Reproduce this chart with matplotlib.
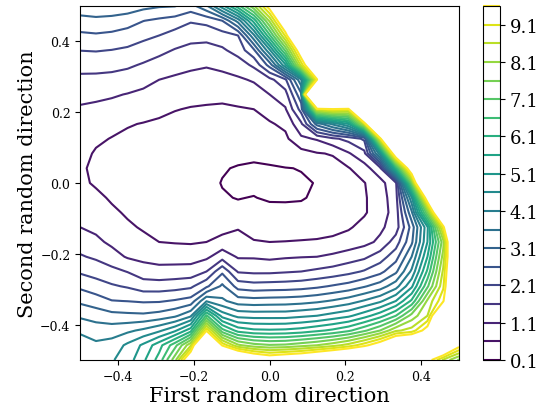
import numpy as np
import matplotlib
matplotlib.use("Agg")
import matplotlib.pyplot as plt

plt.rcParams['font.family'] = ['DejaVu Serif']

# grid of the two random directions
x_dir = np.linspace(-0.5, 0.5, 25)
y_dir = np.linspace(-0.5, 0.5, 25)
levels = np.round(np.arange(0.1, 10.0, 0.5), 1)   # 0.1 ... 9.6
tick_levels = levels[::2]                          # 0.1, 1.1, ... 9.1

# loss values, rows from top (y=0.5) to bottom (y=-0.5)
loss_rows_top_to_bottom = [
    [3.4, 3.45, 3.45, 3.4, 3.25, 3.15, 3.12, 2.9, 3.5, 4.9, 6.4, 8.0, 10.0, 20, 20, 20, 20, 20, 20, 20, 20, 20, 20, 20, 20],
    [2.93, 2.98, 2.93, 2.82, 2.61, 2.5, 2.39, 2.15, 2.25, 2.6, 3.8, 5.8, 8.2, 11, 20, 20, 20, 20, 20, 20, 20, 20, 20, 20, 20],
    [2.5, 2.54, 2.49, 2.38, 2.23, 2.1, 1.9, 1.77, 1.76, 1.9, 2.1, 4.0, 6.5, 9.2, 13, 20, 20, 20, 20, 20, 20, 20, 20, 20, 20],
    [2.11, 2.13, 2.09, 2.02, 1.88, 1.73, 1.57, 1.46, 1.42, 1.52, 1.8, 2.5, 4.5, 7.2, 10.5, 20, 20, 20, 20, 20, 20, 20, 20, 20, 20],
    [1.78, 1.78, 1.75, 1.68, 1.55, 1.41, 1.28, 1.19, 1.14, 1.22, 1.35, 1.7, 2.8, 5.0, 8.8, 12, 20, 20, 20, 20, 20, 20, 20, 20, 20],
    [1.48, 1.47, 1.44, 1.37, 1.25, 1.1, 1.02, 0.96, 0.91, 0.95, 1.03, 1.15, 1.45, 2.0, 4.0, 9.5, 20, 20, 20, 20, 20, 20, 20, 20, 20],
    [1.22, 1.2, 1.15, 1.08, 1.0, 0.91, 0.82, 0.76, 0.72, 0.71, 0.78, 0.88, 1.1, 1.4, 3.0, 30, 20, 20, 20, 20, 20, 20, 20, 20, 20],
    [1.05, 1.0, 0.95, 0.88, 0.79, 0.72, 0.62, 0.57, 0.55, 0.53, 0.56, 0.6, 0.8, 1.05, 2.3, 8.9, 9.5, 9.3, 20, 20, 20, 20, 20, 20, 20],
    [0.95, 0.84, 0.75, 0.63, 0.58, 0.52, 0.47, 0.45, 0.42, 0.4, 0.42, 0.47, 0.55, 0.7, 1.5, 3.3, 4.2, 5.1, 8.6, 20, 20, 20, 20, 20, 20],
    [0.85, 0.68, 0.58, 0.52, 0.45, 0.4, 0.35, 0.3, 0.27, 0.25, 0.22, 0.24, 0.37, 0.5, 1.0, 1.15, 1.5, 1.75, 2.2, 9.1, 20, 20, 20, 20, 20],
    [0.75, 0.55, 0.47, 0.42, 0.38, 0.34, 0.3, 0.27, 0.24, 0.21, 0.18, 0.16, 0.2, 0.3, 0.42, 0.57, 0.63, 1.05, 1.45, 4.4, 11, 20, 20, 20, 20],
    [0.67, 0.5, 0.4, 0.36, 0.32, 0.28, 0.24, 0.2, 0.16, 0.12, 0.08, 0.06, 0.07, 0.09, 0.11, 0.3, 0.45, 0.57, 0.91, 1.43, 6.0, 11, 20, 20, 20],
    [0.68, 0.55, 0.42, 0.37, 0.33, 0.29, 0.25, 0.21, 0.17, 0.09, 0.05, 0.03, 0.02, 0.04, 0.07, 0.11, 0.25, 0.4, 0.58, 0.93, 1.47, 7.4, 16, 20, 20],
    [0.8, 0.69, 0.55, 0.45, 0.38, 0.32, 0.27, 0.22, 0.17, 0.12, 0.09, 0.11, 0.06, 0.06, 0.08, 0.14, 0.28, 0.42, 0.55, 0.85, 1.4, 4.5, 10.5, 16, 20],
    [0.95, 0.84, 0.67, 0.55, 0.47, 0.4, 0.34, 0.29, 0.24, 0.2, 0.17, 0.16, 0.2, 0.19, 0.17, 0.2, 0.3, 0.42, 0.55, 0.84, 1.33, 3.5, 7.5, 13, 20],
    [1.1, 0.99, 0.83, 0.66, 0.56, 0.5, 0.45, 0.42, 0.4, 0.4, 0.57, 0.42, 0.4, 0.4, 0.38, 0.4, 0.45, 0.55, 0.74, 1.0, 1.35, 2.8, 5.0, 9.3, 16],
    [1.37, 1.21, 1.0, 0.85, 0.7, 0.6, 0.57, 0.55, 0.6, 0.8, 0.75, 0.63, 0.6, 0.61, 0.63, 0.65, 0.7, 0.8, 0.95, 1.2, 1.85, 3.0, 5.1, 7.9, 14],
    [1.65, 1.52, 1.3, 1.05, 0.97, 0.92, 0.9, 0.9, 1.0, 1.38, 1.05, 1.05, 1.0, 1.05, 1.08, 1.1, 1.2, 1.35, 1.5, 1.85, 2.4, 3.6, 5.6, 8.3, 13],
    [2.03, 1.9, 1.75, 1.58, 1.32, 1.25, 1.28, 1.3, 1.6, 2.5, 1.55, 1.5, 1.5, 1.55, 1.6, 1.7, 1.8, 1.95, 2.15, 2.45, 3.0, 4.2, 6.2, 8.7, 13],
    [2.5, 2.32, 2.16, 2.05, 1.86, 1.85, 1.9, 2.0, 2.5, 3.2, 2.4, 2.3, 2.33, 2.35, 2.4, 2.5, 2.65, 2.8, 3.05, 3.35, 3.9, 5.0, 7.0, 9.0, 13],
    [3.0, 2.83, 2.62, 2.59, 2.54, 2.55, 2.65, 2.8, 4.05, 3.7, 3.35, 3.3, 3.33, 3.35, 3.4, 3.5, 3.65, 3.85, 4.15, 4.5, 5.1, 6.2, 8.2, 9.5, 14],
    [3.52, 3.4, 3.26, 3.22, 3.2, 3.3, 3.5, 4.0, 6.7, 4.9, 4.45, 4.4, 4.4, 4.4, 4.5, 4.6, 4.8, 5.0, 5.4, 5.9, 6.6, 7.8, 8.6, 12, 16],
    [4.0, 3.85, 3.87, 4.0, 4.2, 4.5, 5.0, 5.9, 9.5, 6.8, 5.9, 5.7, 5.67, 5.7, 5.8, 6.0, 6.2, 6.5, 7.0, 7.6, 8.5, 8.8, 10, 16, 14],
    [4.4, 4.2, 4.3, 4.7, 5.2, 5.9, 6.9, 8.5, 14, 9.5, 8.2, 7.8, 7.65, 7.7, 7.9, 8.1, 8.4, 8.8, 9.4, 10.2, 11.5, 12, 13, 12, 9.9],
    [4.5, 4.45, 4.55, 4.85, 5.5, 6.3, 7.9, 11, 18, 14, 12, 11, 10.5, 10.8, 11, 11.5, 12, 12.5, 13, 14, 16, 14, 10, 8.5, 7.5],
]
loss = np.array(loss_rows_top_to_bottom)[::-1]

fig = plt.figure(figsize=(5.4, 4.1), dpi=100)
ax = fig.add_axes([0.1485, 0.1195, 0.7015, 0.8635])
cs = ax.contour(x_dir, y_dir, loss, levels=levels, cmap='viridis', linewidths=1.5)
ax.set_xlim(-0.5, 0.5)
ax.set_ylim(-0.5, 0.5)
ax.set_xlabel('First random direction', fontsize=15, labelpad=2)
ax.set_ylabel('Second random direction', fontsize=15, labelpad=2)
ax.tick_params(labelsize=9)

cax = fig.add_axes([0.895, 0.1195, 0.031, 0.8635])
cb = fig.colorbar(cs, cax=cax)
cb.set_ticks(tick_levels)
cb.set_ticklabels([f"{v:.1f}" for v in tick_levels])
cb.ax.tick_params(labelsize=13)

fig.savefig('out.png', dpi=100)
